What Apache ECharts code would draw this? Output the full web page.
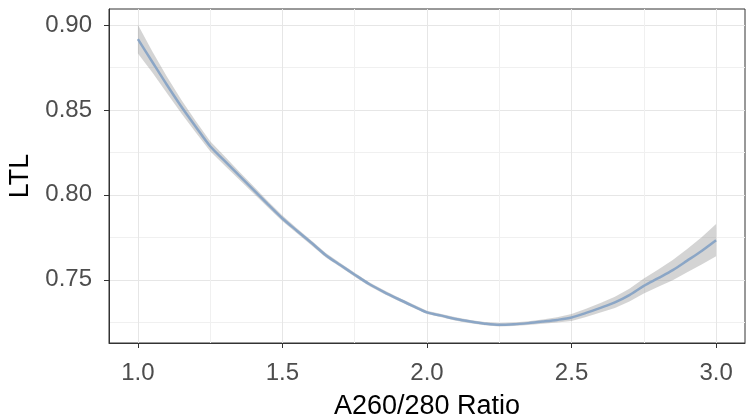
<!DOCTYPE html>
<html>
<head>
<meta charset="utf-8">
<script src="https://cdn.jsdelivr.net/npm/echarts@6/dist/echarts.min.js"></script>
<style>
  html, body { margin: 0; padding: 0; background: #fff; }
  #chart { width: 746px; height: 418px; }
</style>
</head>
<body>
<div id="chart"></div>
<script>
// values
const ratio = [1.00, 1.05, 1.10, 1.15, 1.20, 1.25, 1.30, 1.35, 1.40, 1.45, 1.50,
  1.55, 1.60, 1.65, 1.70, 1.75, 1.80, 1.85, 1.90, 1.95, 2.00,
  2.05, 2.10, 2.15, 2.20, 2.25, 2.30, 2.35, 2.40, 2.45, 2.50,
  2.55, 2.60, 2.65, 2.70, 2.75, 2.80, 2.85, 2.90, 2.95, 3.00];
const ltlFit = [0.8917, 0.8782, 0.8648, 0.8520, 0.8401, 0.8286, 0.8200, 0.8114, 0.8029, 0.7944, 0.7861,
  0.7789, 0.7718, 0.7645, 0.7587, 0.7530, 0.7475, 0.7429, 0.7387, 0.7347, 0.7308,
  0.7289, 0.7269, 0.7254, 0.7242, 0.7235, 0.7238, 0.7245, 0.7254, 0.7264, 0.7278,
  0.7305, 0.7335, 0.7367, 0.7410, 0.7464, 0.7510, 0.7557, 0.7613, 0.7670, 0.7733];
const ltlHalfWidth = [0.0085, 0.0062, 0.0048, 0.0040, 0.0034, 0.0030, 0.0027, 0.0024, 0.0021, 0.0019, 0.0017,
  0.0015, 0.0014, 0.0013, 0.0012, 0.0012, 0.0011, 0.0011, 0.0011, 0.0010, 0.0010,
  0.0010, 0.0010, 0.0010, 0.0010, 0.0010, 0.0010, 0.0011, 0.0013, 0.0016, 0.0020,
  0.0024, 0.0028, 0.0033, 0.0038, 0.0044, 0.0051, 0.0059, 0.0068, 0.0080, 0.0095];
const xTicks = [1.0, 1.5, 2.0, 2.5, 3.0];
const xMinor = [1.25, 1.75, 2.25, 2.75];
const yTicks = [0.75, 0.80, 0.85, 0.90];
const yMinor = [0.725, 0.775, 0.825, 0.875];

const fit = ratio.map((x, i) => [x, ltlFit[i]]);
const upper = ratio.map((x, i) => [x, ltlFit[i] + ltlHalfWidth[i]]);
const lower = ratio.map((x, i) => [x, ltlFit[i] - ltlHalfWidth[i]]);

const font = 'Liberation Sans, Arial, sans-serif';
const xMin = 0.9, xMax = 3.1, yMin = 0.7128, yMax = 0.9094;

// confidence ribbon as one polygon, points go through the axes
function drawBand(params, api) {
  if (params.dataIndex !== 0) return;
  const pts = upper.map(p => api.coord(p)).concat(lower.slice().reverse().map(p => api.coord(p)));
  return {
    type: 'polygon',
    shape: { points: pts },
    style: { fill: 'rgba(153,153,153,0.42)' }
  };
}

const chart = echarts.init(document.getElementById('chart'));
chart.setOption({
  animation: false,
  grid: { left: 109, right: 1, top: 9, bottom: 75, outerBoundsMode: 'none', containLabel: false,
    show: true, borderColor: '#333', borderWidth: 1, backgroundColor: '#fff' },
  xAxis: [{
    type: 'value', min: xMin, max: xMax, position: 'bottom',
    name: 'A260/280 Ratio', nameLocation: 'middle', nameGap: 50,
    nameTextStyle: { fontFamily: font, fontSize: 27, color: '#000' },
    axisLine: { show: true, lineStyle: { color: '#333', width: 1 } },
    axisTick: { show: true, length: 5, customValues: xTicks, lineStyle: { color: '#333' } },
    axisLabel: { customValues: xTicks, margin: 18, fontFamily: font, fontSize: 24, color: '#4d4d4d',
      formatter: v => v.toFixed(1) },
    splitLine: { show: true, lineStyle: { color: '#e6e6e6', width: 1 } }
  }, {
    type: 'value', min: xMin, max: xMax, position: 'top',
    axisLine: { show: false }, axisLabel: { show: false },
    axisTick: { show: false, customValues: xMinor },
    splitLine: { show: true, lineStyle: { color: '#f0f0f0', width: 1 } }
  }],
  yAxis: [{
    type: 'value', min: yMin, max: yMax, position: 'left',
    name: 'LTL', nameLocation: 'middle', nameGap: 75,
    nameTextStyle: { fontFamily: font, fontSize: 27, color: '#000' },
    axisLine: { show: true, lineStyle: { color: '#333', width: 1 } },
    axisTick: { show: true, length: 5, customValues: yTicks, lineStyle: { color: '#333' } },
    axisLabel: { customValues: yTicks, margin: 17, fontFamily: font, fontSize: 24, color: '#4d4d4d',
      formatter: v => v.toFixed(2) },
    splitLine: { show: true, lineStyle: { color: '#e6e6e6', width: 1 } }
  }, {
    type: 'value', min: yMin, max: yMax, position: 'right',
    axisLine: { show: false }, axisLabel: { show: false },
    axisTick: { show: false, customValues: yMinor },
    splitLine: { show: true, lineStyle: { color: '#f0f0f0', width: 1 } }
  }],
  series: [{
    type: 'custom', renderItem: drawBand, data: fit, clip: true, silent: true,
    encode: { x: 0, y: 1 }
  }, {
    type: 'line', data: fit, symbol: 'none', smooth: 0.3,
    lineStyle: { color: '#8ba6c6', width: 2.5 }
  }]
});
</script>
</body>
</html>
